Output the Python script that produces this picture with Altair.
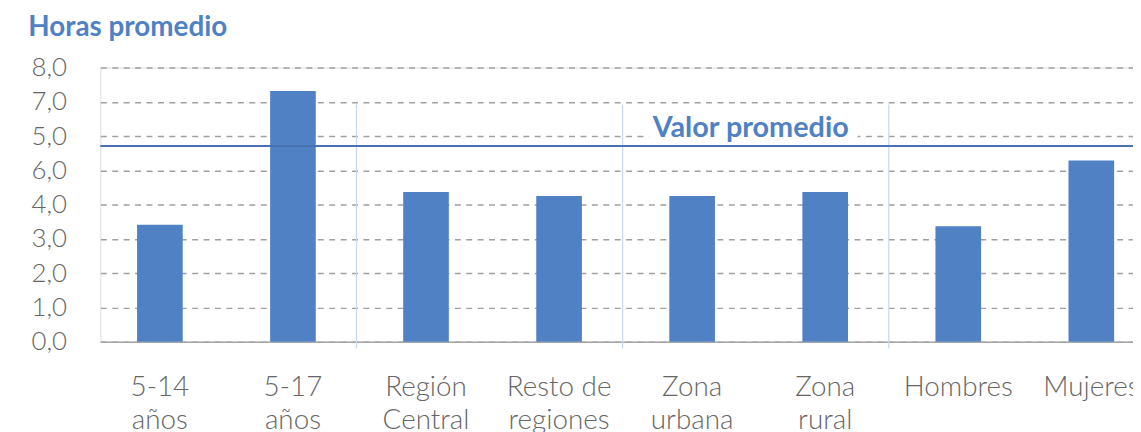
import altair as alt
import pandas as pd

categories = ["5-14 años", "5-17 años", "Región Central", "Resto de regiones",
              "Zona urbana", "Zona rural", "Hombres", "Mujeres"]
label_lines = [["5-14", "años"], ["5-17", "años"], ["Región", "Central"],
               ["Resto de", "regiones"], ["Zona", "urbana"], ["Zona", "rural"],
               ["Hombres"], ["Mujeres"]]
values = [3.41, 7.32, 4.37, 4.25, 4.25, 4.37, 3.37, 5.29]
promedio = 5.71
promedio_label = "Valor promedio"
y_title = "Horas promedio"
y_ticks = [0, 1, 2, 3, 4, 5, 6, 7, 8]
y_tick_labels = ["0,0", "1,0", "2,0", "3,0", "4,0", "6,0", "5,0", "7,0", "8,0"]
separator_after = ["Región Central", "Zona urbana", "Hombres"]
separator_top = 6.92
separator_bottom = -0.2

FONT = "Lato"
BLUE = "#4f81c4"
GRAY = "#666666"

df = pd.DataFrame({"cat": categories, "val": values})
sep_df = pd.DataFrame({"cat": separator_after, "val": [separator_top] * 3,
                       "bot": [separator_bottom] * 3})
avg_df = pd.DataFrame({"val": [promedio], "txt": [promedio_label], "cat": ["Zona urbana"]})

def js_list(lst):
    return "[" + ",".join("'" + s + "'" for s in lst) + "]"

x_label_expr = ("[" + ",".join(js_list(l) for l in label_lines) + "][indexof("
                + js_list(categories) + ", datum.value)]")
y_label_expr = js_list(y_tick_labels) + "[datum.value]"

x_scale = alt.Scale(paddingInner=0.657, paddingOuter=0.276, range=[0, 1058])
y_scale = alt.Scale(domain=[0, 8], nice=False, zero=True)

x_axis = alt.Axis(labelExpr=x_label_expr, labelAngle=0, labelFont=FONT,
                  labelFontSize=28, labelFontWeight=300, labelColor=GRAY,
                  labelLineHeight=33, labelBaseline="top", labelPadding=32,
                  ticks=False, domain=True, domainColor="#a6a6a6",
                  domainWidth=1.5, grid=False, labelFlush=False,
                  labelOverlap=False)
y_axis = alt.Axis(values=y_ticks, tickCount=9, labelExpr=y_label_expr,
                  labelFont=FONT, labelFontSize=26, labelFontWeight=300,
                  labelColor=GRAY, labelPadding=34, labelOverlap=False,
                  ticks=False, tickSize=0, domain=False, grid=True,
                  gridColor="#a0a0a0", gridDash=[6, 5.5], gridWidth=1.5,
                  labelBaseline="middle",
                  title=y_title, titleAngle=0, titleAlign="left",
                  titleBaseline="alphabetic", titleX=-73, titleY=-32,
                  titleFont=FONT, titleFontSize=28, titleFontWeight="bold",
                  titleColor=BLUE)

x_enc = alt.X("cat:N", sort=categories, title=None, scale=x_scale, axis=x_axis)
y_enc = alt.Y("val:Q", scale=y_scale, axis=y_axis)

bars = alt.Chart(df).mark_bar(color=BLUE).encode(x=x_enc, y=y_enc)

seps = alt.Chart(sep_df).mark_rule(color="#c9d8ee", strokeWidth=1.2, xOffset=-70,
                                   clip=False).encode(
    x=x_enc, y=y_enc, y2="bot:Q")

mask = alt.Chart(avg_df).mark_text(font=FONT, fontSize=29, fontWeight="bold",
                                   color="white", stroke="white", strokeWidth=22,
                                   baseline="alphabetic", dx=59, dy=-9).encode(
    x=x_enc, y=y_enc, text="txt:N")

avg_rule = alt.Chart(avg_df).mark_rule(color="#4a72b2", strokeWidth=2).encode(
    y=y_enc)

avg_text = alt.Chart(avg_df).mark_text(font=FONT, fontSize=29, fontWeight="bold",
                                       color=BLUE, baseline="alphabetic",
                                       dx=59, dy=-9).encode(
    x=x_enc, y=y_enc, text="txt:N")

chart = alt.layer(bars, seps, mask, avg_rule, avg_text).properties(
    width=1040, height=276,
    autosize=alt.AutoSizeParams(type="none"),
    padding={"left": 93, "top": 58.5, "right": 0, "bottom": 89.5},
).configure_view(stroke=None).configure(background="white")

chart.save("out.html", embed_options={"renderer": "svg", "actions": False})
